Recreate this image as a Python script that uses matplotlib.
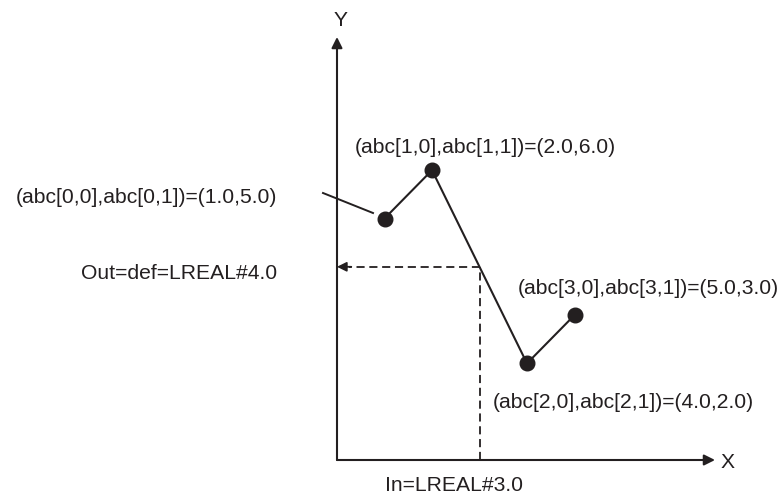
import matplotlib
matplotlib.use('Agg')
import matplotlib.pyplot as plt

# Data
abc_x = [1.0, 2.0, 4.0, 5.0]
abc_y = [5.0, 6.0, 2.0, 3.0]
in_val = 3.0
out_val = 4.0

ink = '#231f20'
plt.rcParams['font.family'] = ['Liberation Sans', 'DejaVu Sans']
fs = 15.2

fig = plt.figure(figsize=(7.82, 4.94), dpi=100)
ax = fig.add_axes([0, 0, 1, 1])
ax.axis('off')

# pixel -> data mapping (origin at pixel 337,460)
sx, sy = 47.5, 48.3
ox, oy = 337, 460
ax.set_xlim(-ox / sx, (782 - ox) / sx)
ax.set_ylim((oy - 494) / sy, oy / sy)


def at(px, py):
    return (px - ox) / sx, (oy - py) / sy


# axes with arrows
arrow = dict(arrowstyle='-|>', lw=1.5, color=ink, mutation_scale=16,
             shrinkA=0, shrinkB=0)
ax.annotate('', xy=at(337, 37), xytext=(0, 0), arrowprops=arrow)
ax.annotate('', xy=at(715, 460), xytext=(0, 0), arrowprops=arrow)
ax.text(*at(341, 20), 'Y', fontsize=fs, ha='center', va='center', color=ink)
ax.text(*at(728, 462), 'X', fontsize=fs, ha='center', va='center', color=ink)

# dashed guide lines for In / Out
ax.plot([in_val, in_val], [0, out_val], ls=(0, (4.5, 2.6)), lw=1.3, color=ink)
ax.plot([in_val, 0.25], [out_val, out_val], ls=(0, (4.5, 2.6)), lw=1.3, color=ink)
ax.annotate('', xy=(0, out_val), xytext=(0.3, out_val),
            arrowprops=dict(arrowstyle='-|>', lw=1.3, color=ink,
                            mutation_scale=14, shrinkA=0, shrinkB=0))

# polyline with points
ax.plot(abc_x, abc_y, color=ink, lw=1.5, marker='o', ms=10.5,
        markerfacecolor=ink, markeredgecolor=ink)

# leader line to first point
x0, y0 = at(323, 193)
x1, y1 = at(373, 213)
ax.plot([x0, x1], [y0, y1], color=ink, lw=1.4)

labels = [f'(abc[{i},0],abc[{i},1])=({x:.1f},{y:.1f})'
          for i, (x, y) in enumerate(zip(abc_x, abc_y))]

ax.text(*at(277, 197), labels[0], fontsize=fs, ha='right', va='center', color=ink)
ax.text(*at(485, 147), labels[1], fontsize=fs, ha='center', va='center', color=ink)
ax.text(*at(493, 402), labels[2], fontsize=fs, ha='left', va='center', color=ink)
ax.text(*at(518, 288), labels[3], fontsize=fs, ha='left', va='center', color=ink)

ax.text(*at(277, 273), f'Out=def=LREAL#{out_val:.1f}', fontsize=fs,
        ha='right', va='center', color=ink)
ax.text(*at(454, 485), f'In=LREAL#{in_val:.1f}', fontsize=fs,
        ha='center', va='center', color=ink)

fig.savefig('out.png', dpi=100, facecolor='white')
